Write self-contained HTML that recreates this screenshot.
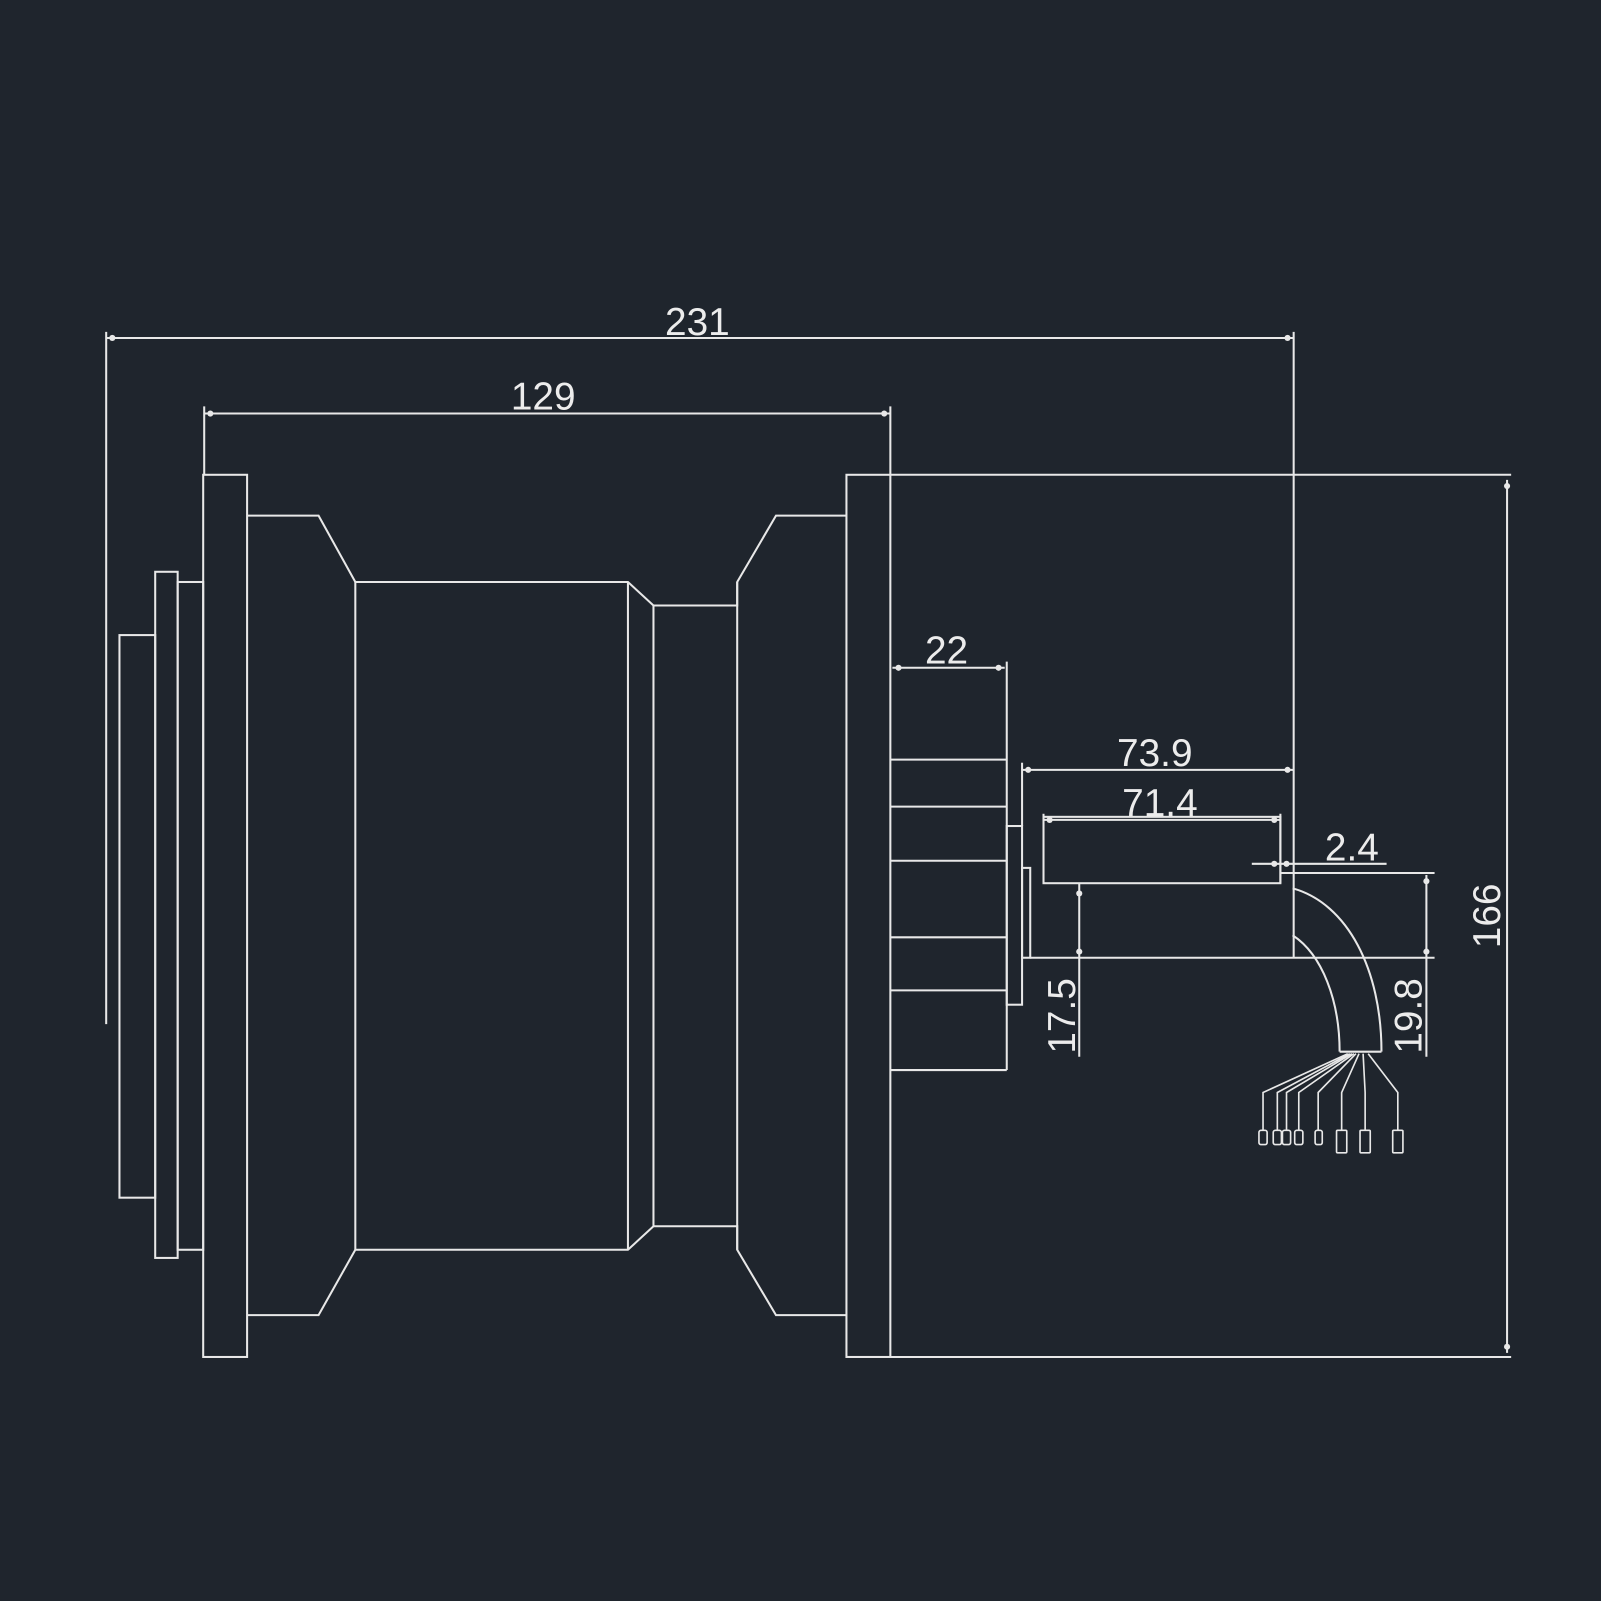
<!DOCTYPE html>
<html><head><meta charset="utf-8"><style>
html,body{margin:0;padding:0;background:#1f252d;}
svg{display:block;}
text{font-family:"Liberation Sans",sans-serif;fill:#ececec;font-size:38px;}
</style></head><body>
<svg width="1601" height="1601" viewBox="0 0 1568 1568" xmlns="http://www.w3.org/2000/svg">
<rect width="1568" height="1568" fill="#1f252d"/>
<g fill="none" stroke="#e8e8e8" stroke-width="2">
<!-- 231 dim -->
<line x1="104" y1="325" x2="104" y2="1003"/>
<line x1="104" y1="331" x2="1267" y2="331"/>
<line x1="1267" y1="325" x2="1267" y2="938"/>
<!-- 129 dim -->
<line x1="200" y1="398" x2="200" y2="465"/>
<line x1="200" y1="405" x2="872" y2="405"/>
<line x1="872" y1="398" x2="872" y2="465"/>
<!-- left flanges -->
<rect x="117" y="622" width="35" height="551"/>
<rect x="152" y="560" width="22" height="672"/>
<rect x="174" y="570" width="25" height="654"/>
<rect x="199" y="465" width="43" height="864"/>
<!-- body -->
<polyline points="242,505 312,505 348,570 615,570 640,593 722,593 722,570 760,505 829,505"/>
<polyline points="242,1288 312,1288 348,1224 615,1224 640,1201 722,1201 722,1224 760,1288 829,1288"/>
<line x1="348" y1="570" x2="348" y2="1224"/>
<line x1="615" y1="570" x2="615" y2="1224"/>
<line x1="640" y1="593" x2="640" y2="1201"/>
<line x1="722" y1="570" x2="722" y2="1224"/>
<rect x="829" y="465" width="43" height="864"/>
<!-- motor box -->
<line x1="872" y1="465" x2="1480" y2="465"/>
<line x1="872" y1="1329" x2="1480" y2="1329"/>
<!-- 166 -->
<line x1="1476" y1="470" x2="1476" y2="1325"/>
<!-- connector block -->
<line x1="986" y1="648" x2="986" y2="1048"/>
<line x1="872" y1="1048" x2="986" y2="1048"/>
<line x1="874" y1="654" x2="984" y2="654"/>
<line x1="872" y1="744" x2="986" y2="744"/>
<line x1="872" y1="790" x2="986" y2="790"/>
<line x1="872" y1="843" x2="986" y2="843"/>
<line x1="872" y1="918" x2="986" y2="918"/>
<line x1="872" y1="970" x2="986" y2="970"/>
<rect x="986" y="809" width="15" height="175"/>
<rect x="1001" y="850" width="8" height="88"/>
<line x1="1001" y1="747" x2="1001" y2="809"/>
<line x1="1001" y1="754" x2="1267" y2="754"/>
<rect x="1022" y="800" width="232" height="65"/>
<line x1="1022" y1="797" x2="1022" y2="800"/>
<line x1="1022" y1="803" x2="1254" y2="803"/>
<line x1="1254" y1="797" x2="1254" y2="865"/>
<line x1="1009" y1="938" x2="1405" y2="938"/>
<line x1="1254" y1="855" x2="1405" y2="855"/>
<line x1="1226" y1="846" x2="1358" y2="846"/>
<!-- 17.5 -->
<line x1="1057" y1="865" x2="1057" y2="1035"/>
<!-- 19.8 -->
<line x1="1397" y1="857" x2="1397" y2="1035"/>
<!-- cable -->
<path d="M1266,870 C1320,885 1353,950 1353,1030"/>
<path d="M1266,916 C1295,935 1312,980 1312,1030"/>
<line x1="1312" y1="1030" x2="1353" y2="1030"/>
<g stroke-width="1.6">
<polyline points="1320,1032 1237,1070 1237,1107"/>
<polyline points="1322,1032 1251,1070 1251,1107"/>
<polyline points="1324,1032 1260,1070 1260,1107"/>
<polyline points="1326,1032 1272,1070 1272,1107"/>
<polyline points="1328,1032 1291,1070 1291,1107"/>
<polyline points="1331,1032 1314,1070 1314,1107"/>
<polyline points="1335,1032 1337,1070 1337,1107"/>
<polyline points="1340,1032 1369,1070 1369,1107"/>
<rect x="1233" y="1107" width="8" height="14" rx="2"/>
<rect x="1247" y="1107" width="8" height="14" rx="2"/>
<rect x="1256" y="1107" width="8" height="14" rx="2"/>
<rect x="1268" y="1107" width="8" height="14" rx="2"/>
<rect x="1288" y="1107" width="7" height="14" rx="2"/>
<rect x="1309" y="1107" width="10" height="22" rx="1"/>
<rect x="1332" y="1107" width="10" height="22" rx="1"/>
<rect x="1364" y="1107" width="10" height="22" rx="1"/>
</g>
</g>
<g fill="#e8e8e8">
<circle cx="110" cy="331" r="3"/><circle cx="1261" cy="331" r="3"/>
<circle cx="206" cy="405" r="3"/><circle cx="866" cy="405" r="3"/>
<circle cx="880" cy="654" r="3"/><circle cx="978" cy="654" r="3"/>
<circle cx="1007" cy="754" r="3"/><circle cx="1261" cy="754" r="3"/>
<circle cx="1028" cy="803" r="3"/><circle cx="1248" cy="803" r="3"/>
<circle cx="1248" cy="846" r="3"/><circle cx="1260" cy="846" r="3"/>
<circle cx="1057" cy="875" r="3"/><circle cx="1057" cy="932" r="3"/>
<circle cx="1397" cy="863" r="3"/><circle cx="1397" cy="932" r="3"/>
<circle cx="1476" cy="476" r="3"/><circle cx="1476" cy="1319" r="3"/>
</g>
<text x="683" y="328" text-anchor="middle">231</text>
<text x="532" y="401" text-anchor="middle">129</text>
<text x="927" y="650" text-anchor="middle">22</text>
<text x="1131" y="750" text-anchor="middle">73.9</text>
<text x="1136" y="799" text-anchor="middle">71.4</text>
<text x="1324" y="843" text-anchor="middle">2.4</text>
<text transform="translate(1053,995) rotate(-90)" text-anchor="middle">17.5</text>
<text transform="translate(1392,995) rotate(-90)" text-anchor="middle">19.8</text>
<text transform="translate(1469,897) rotate(-90)" text-anchor="middle">166</text>
</svg>
</body></html>
